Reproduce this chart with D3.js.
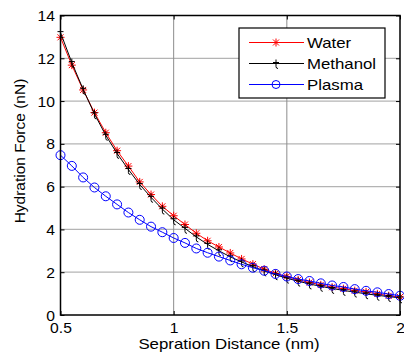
<!DOCTYPE html>
<html>
<head>
<meta charset="utf-8">
<script src="https://cdn.jsdelivr.net/npm/d3@7"></script>
<style>
  html, body { margin: 0; padding: 0; background: #fff; }
  svg { display: block; font-family: "Liberation Sans", Arial, Helvetica, sans-serif; }
</style>
</head>
<body>
<svg id="chart" width="404" height="356"></svg>
<script>
// Separation distance (nm), sampled every 0.05 nm
const distance = [0.5, 0.55, 0.6, 0.65, 0.7, 0.75, 0.8, 0.85, 0.9, 0.95, 1.0,
  1.05, 1.1, 1.15, 1.2, 1.25, 1.3, 1.35, 1.4, 1.45, 1.5,
  1.55, 1.6, 1.65, 1.7, 1.75, 1.8, 1.85, 1.9, 1.95, 2.0];

// Hydration force (nN) for each medium
const water = [12.98, 11.68, 10.52, 9.46, 8.52, 7.68, 6.96, 6.22, 5.63, 5.08, 4.64,
  4.23, 3.82, 3.47, 3.18, 2.90, 2.62, 2.38, 2.14, 1.94, 1.80,
  1.64, 1.52, 1.41, 1.30, 1.23, 1.14, 1.08, 0.99, 0.90, 0.84];
const methanol = [13.20, 11.80, 10.55, 9.40, 8.40, 7.55, 6.80, 6.10, 5.50, 4.95, 4.45,
  4.05, 3.65, 3.30, 3.00, 2.72, 2.48, 2.26, 2.06, 1.88, 1.72,
  1.58, 1.45, 1.34, 1.24, 1.15, 1.07, 0.99, 0.92, 0.86, 0.80];
const plasma = [7.47, 6.97, 6.43, 5.96, 5.55, 5.17, 4.79, 4.45, 4.13, 3.87, 3.60,
  3.37, 3.11, 2.91, 2.73, 2.55, 2.37, 2.21, 2.07, 1.92, 1.80,
  1.68, 1.59, 1.48, 1.38, 1.31, 1.21, 1.13, 1.06, 0.98, 0.90];

const xTicks = [0.5, 1, 1.5, 2];
const xTickLabels = ["0.5", "1", "1.5", "2"];
const yTicks = [0, 2, 4, 6, 8, 10, 12, 14];

const seriesNames = ["Water", "Methanol", "Plasma"];
const seriesColors = ["#ff0000", "#000000", "#0000ff"];

const svg = d3.select("#chart");
const plotLeft = 60.5, plotRight = 400, plotTop = 15.5, plotBottom = 315;

const x = d3.scaleLinear().domain([0.5, 2]).range([plotLeft, plotRight]);
const y = d3.scaleLinear().domain([0, 14]).range([plotBottom, plotTop]);

// Grid lines
const grid = svg.append("g");
grid.selectAll(".hg").data(yTicks.filter(v => v > 0 && v < 14)).join("line")
  .attr("x1", plotLeft).attr("x2", plotRight)
  .attr("y1", d => y(d)).attr("y2", d => y(d))
  .attr("stroke", "#b4b4b4").attr("stroke-width", 1.3);
grid.selectAll(".vg").data(xTicks.filter(v => v > 0.5 && v < 2)).join("line")
  .attr("y1", plotTop).attr("y2", plotBottom)
  .attr("x1", d => x(d)).attr("x2", d => x(d))
  .attr("stroke", "#8c8c8c").attr("stroke-width", 1);

// Axes with inward ticks on all four sides
const sx = 1.12;
const gx = svg.append("g").attr("transform", `translate(0,${plotBottom})`)
  .call(d3.axisBottom(x).tickValues(xTicks).tickFormat((d, i) => xTickLabels[i]).tickSize(-4).tickPadding(0));
gx.selectAll("text").attr("y", 18.5).attr("dy", 0)
  .attr("transform", `scale(${sx},1)`).style("font-size", "14px").attr("fill", "#000");
const gy = svg.append("g").attr("transform", `translate(${plotLeft},0)`)
  .call(d3.axisLeft(y).tickValues(yTicks).tickFormat(d3.format("d")).tickSize(-4));
gy.selectAll("text").attr("x", -5.5 / sx).attr("dy", "0.36em")
  .attr("transform", `scale(${sx},1)`).style("font-size", "14px").attr("fill", "#000");
const gt = svg.append("g").attr("transform", `translate(0,${plotTop})`)
  .call(d3.axisTop(x).tickValues(xTicks).tickFormat("").tickSize(-4));
const gr = svg.append("g").attr("transform", `translate(${plotRight},0)`)
  .call(d3.axisRight(y).tickValues(yTicks).tickFormat("").tickSize(-4));
[gx, gy, gt, gr].forEach(g => {
  g.select(".domain").remove();
  g.selectAll("line").attr("stroke", "#000").attr("stroke-width", 1);
  g.attr("font-family", null).attr("font-size", null);
});

// Marker shapes
const starPath = "M-4,0H4M0,-4V4M-3,-3L3,3M-3,3L3,-3";
const plusTPath = "M0,-4V3Q0,5 2,5M-3,-1H3";
const line = d3.line().x(d => x(d[0])).y(d => y(d[1]));

const values = [water, methanol, plasma];
values.forEach((vals, i) => {
  const pts = distance.map((d, j) => [d, vals[j]]);
  const g = svg.append("g");
  g.append("path").attr("d", line(pts)).attr("fill", "none")
    .attr("stroke", seriesColors[i]).attr("stroke-width", 1);
  if (i === 2) {
    g.selectAll("circle").data(pts).join("circle")
      .attr("cx", d => x(d[0])).attr("cy", d => y(d[1])).attr("r", 4.5)
      .attr("fill", "none").attr("stroke", seriesColors[i]).attr("stroke-width", 1);
  } else {
    g.selectAll(".m").data(pts).join("path")
      .attr("transform", d => `translate(${x(d[0])},${y(d[1])})`)
      .attr("d", i === 0 ? starPath : plusTPath)
      .attr("fill", "none").attr("stroke", seriesColors[i]).attr("stroke-width", 1);
  }
});

// Plot box
svg.append("rect").attr("x", plotLeft).attr("y", plotTop)
  .attr("width", plotRight - plotLeft).attr("height", plotBottom - plotTop)
  .attr("fill", "none").attr("stroke", "#000").attr("stroke-width", 1.5);

// Legend
const lg = svg.append("g");
lg.append("rect").attr("x", 239).attr("y", 28).attr("width", 146).attr("height", 70)
  .attr("fill", "#fff").attr("stroke", "#000").attr("stroke-width", 1.2);
seriesNames.forEach((name, i) => {
  const cy = 42.5 + i * 21;
  lg.append("line").attr("x1", 249).attr("x2", 304).attr("y1", cy).attr("y2", cy)
    .attr("stroke", seriesColors[i]).attr("stroke-width", 1);
  if (i === 2) {
    lg.append("circle").attr("cx", 276).attr("cy", cy).attr("r", 4)
      .attr("fill", "none").attr("stroke", seriesColors[i]);
  } else {
    lg.append("path").attr("transform", `translate(276,${cy})`)
      .attr("d", i === 0 ? starPath : plusTPath)
      .attr("fill", "none").attr("stroke", seriesColors[i]);
  }
  lg.append("text").attr("transform", `translate(307,${cy + 5}) scale(1.2,1)`)
    .style("font-size", "14px").text(name);
});

// Axis titles
svg.append("text").attr("transform", `translate(229,349) scale(1.16,1)`)
  .attr("text-anchor", "middle").style("font-size", "14.5px")
  .text("Sepration Distance (nm)");
svg.append("text").attr("transform", `translate(25,151) rotate(-90)`)
  .attr("text-anchor", "middle").style("font-size", "15.5px")
  .text("Hydration Force (nN)");
</script>
</body>
</html>
